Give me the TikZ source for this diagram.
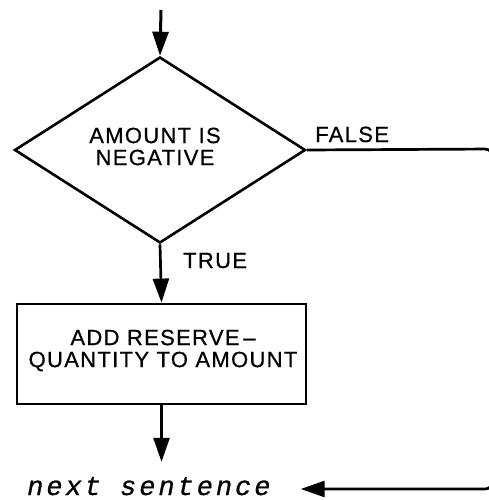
\documentclass[tikz,border=0pt]{standalone}
\usepackage{fontspec}
\usetikzlibrary{shapes.geometric,arrows.meta}
\newfontfamily\lblfont[LetterSpace=6,FakeBold=0.6]{Liberation Sans}
\newfontfamily\codefont[LetterSpace=11,FakeBold=0.8]{Liberation Mono}

\tikzset{
  flowline/.style={line width=2.7pt},
  flowarrow/.style={flowline,-{Triangle[length=24pt,width=16pt]}},
  lbl/.style={font=\lblfont\fontsize{22}{22}\selectfont,inner sep=0pt},
  decision/.style={draw,diamond,line width=2.6pt,inner sep=0pt,
    minimum width=291pt,minimum height=186pt},
  process/.style={draw,rectangle,line width=2.8pt,inner sep=0pt,
    minimum width=289pt,minimum height=100pt},
}

\begin{document}
\begin{tikzpicture}[x=1pt,y=-1pt]
  \useasboundingbox (0,0) rectangle (489,500);
  \clip (0,0) rectangle (489,500);

  % entry point above the test
  \coordinate (entry) at (161,10);

  % the test and the action taken when it holds
  \node[decision] (test) at (160,150) {};
  \node[lbl,align=center] (testtxt) at (155,146.5) {AMOUNT IS\\NEGATIVE};
  \node[process] (add) at (161.5,354) {};
  \node[lbl,align=center] (addtxt) at (163,350.5) {ADD RESERVE\,–\\QUANTITY TO AMOUNT};

  % branch labels
  \node[lbl,anchor=base west] (false) at (315,142) {FALSE};
  \node[lbl,anchor=base west] (true) at (183,268) {TRUE};

  % continuation
  \node[font=\codefont\itshape\fontsize{27}{27}\selectfont,inner sep=0pt,
        anchor=base west] (next) at (27,495) {next sentence};

  % return path of the FALSE branch, running past the right edge
  \coordinate (rtop) at (493,149);
  \coordinate (rbot) at (493,489);

  % connectors
  \draw[flowarrow,line width=3pt] (entry) -- (test.north);
  \draw[flowarrow] (test.south) -- (add.north);
  \draw[flowarrow,shorten >=15pt] (add.south) -- (add.south |- next.north);
  \draw[flowarrow,rounded corners=8pt]
    (test.east) -- (rtop) -- (rbot) -- ([xshift=30pt]next.east |- rbot);
\end{tikzpicture}
\end{document}
